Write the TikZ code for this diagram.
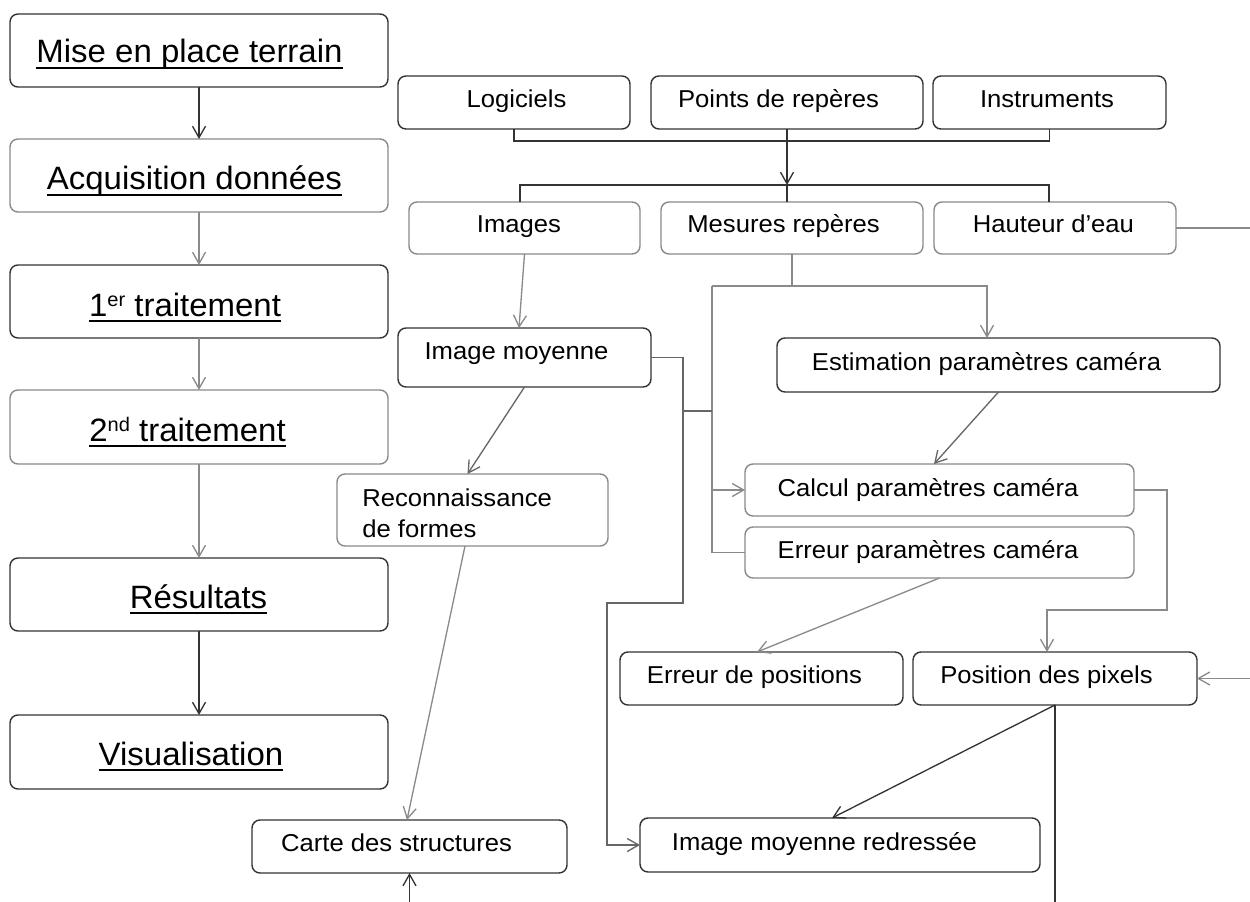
\documentclass[tikz,border=0pt]{standalone}
\usepackage{fontspec}
\usepackage{graphicx}
\setmainfont{Liberation Sans}
\usetikzlibrary{arrows.meta,calc}
\definecolor{dk}{HTML}{333333}
\definecolor{gy}{HTML}{8A8A8A}
\definecolor{md}{HTML}{666666}
\newsavebox\ulbox
\newcommand\myul[1]{\sbox\ulbox{#1}\rlap{\rule[-3.6pt]{\wd\ulbox}{1.1pt}}\usebox\ulbox}
\newcommand\ltx[1]{\scalebox{1.02}[1]{\myul{#1}}}
\newcommand\rtx[1]{\scalebox{1.05}[1]{#1}}
\newcommand\sups[1]{\raisebox{5.2pt}{\fontsize{11.2}{11.2}\selectfont #1}}
\newcommand\bx[6]{\node[#2, minimum width={(#5-#3)*0.02cm}, minimum height={(#6-#4)*0.02cm}] (#1) at ({(#3+#5)/2},{(#4+#6)/2}) {};}
\tikzset{
  boxd/.style={draw=dk, line width=0.8pt, rounded corners=0.16cm, inner sep=0pt, outer sep=0pt},
  boxg/.style={draw=gy, line width=0.8pt, rounded corners=0.16cm, inner sep=0pt, outer sep=0pt},
  lt/.style={anchor=base, inner sep=0pt, font=\fontsize{18.4}{20}\selectfont},
  rt/.style={anchor=base, inner sep=0pt, font=\fontsize{13.9}{15}\selectfont},
  lnd/.style={draw=dk, line width=0.75pt},
  lng/.style={draw=gy, line width=0.75pt},
  lnm/.style={draw=md, line width=0.75pt},
  >={Straight Barb[length=2.3mm,width=2.6mm]}
}
\begin{document}
\begin{tikzpicture}[x=0.02cm, y=-0.02cm]
\useasboundingbox[fill=white] (0,0) rectangle (1250,902);
% left column
\bx{mise}{boxd}{10}{14}{388}{87}
\bx{acq}{boxg}{10}{139}{388}{212}
\bx{tra1}{boxd}{10}{265}{388}{338}
\bx{tra2}{boxg}{10}{390}{388}{464}
\bx{res}{boxd}{10}{558}{388}{631}
\bx{vis}{boxd}{10}{715}{388}{789}
\node[lt] (mise-t) at (189.5,63) {\ltx{Mise en place terrain}};
\node[lt] (acq-t) at (194.5,190) {\ltx{Acquisition données}};
\node[lt] (tra1-t) at (185,316) {\ltx{1\sups{er} traitement}};
\node[lt] (tra2-t) at (187.5,441) {\ltx{2\sups{nd} traitement}};
\node[lt] (res-t) at (198.5,608) {\ltx{Résultats}};
\node[lt] (vis-t) at (191,765) {\ltx{Visualisation}};
\draw[lnd,->] (mise) -- (acq);
\draw[lng,->] (acq) -- (tra1);
\draw[lng,->] (tra1) -- (tra2);
\draw[lng,->] (tra2) -- (res);
\draw[lnd,->] (res) -- (vis);
% right boxes
\bx{log}{boxd}{398}{76}{630}{129}
\bx{pts}{boxd}{651}{76}{923}{129}
\bx{ins}{boxd}{933}{76}{1166}{129}
\bx{img}{boxg}{409}{202}{640}{254}
\bx{mes}{boxg}{661}{202}{923}{254}
\bx{hau}{boxg}{934}{202}{1176}{254}
\bx{imoy}{boxd}{398}{328}{651}{387}
\bx{est}{boxd}{777}{338}{1220}{392}
\bx{cal}{boxg}{745}{464}{1134}{516}
\bx{errp}{boxg}{745}{527}{1134}{578}
\bx{rec}{boxg}{337}{474}{608}{546}
\bx{errpos}{boxd}{620}{652}{903}{705}
\bx{pos}{boxd}{913}{652}{1197}{705}
\bx{carte}{boxd}{252}{820}{567}{873}
\bx{imr}{boxd}{640}{818}{1040}{872}
\node[rt] (log-t) at (516.5,108) {\rtx{Logiciels}};
\node[rt] (pts-t) at (778.5,108) {\rtx{Points de repères}};
\node[rt] (ins-t) at (1047,108) {\rtx{Instruments}};
\node[rt] (img-t) at (519,233) {\rtx{Images}};
\node[rt] (mes-t) at (783.5,233) {\rtx{Mesures repères}};
\node[rt] (hau-t) at (1053.5,233) {\rtx{Hauteur d’eau}};
\node[rt] (imoy-t) at (516.5,359) {\rtx{Image moyenne}};
\node[rt] (est-t) at (986.5,370) {\rtx{Estimation paramètres caméra}};
\node[rt] (cal-t) at (928,496) {\rtx{Calcul paramètres caméra}};
\node[rt] (errp-t) at (928,558) {\rtx{Erreur paramètres caméra}};
\node[rt, anchor=base west] (rec-t1) at (362,506) {\rtx{Reconnaissance}};
\node[rt, anchor=base west] (rec-t2) at (362,537) {\rtx{de formes}};
\node[rt] (errpos-t) at (754.5,683) {\rtx{Erreur de positions}};
\node[rt] (pos-t) at (1046.5,683) {\rtx{Position des pixels}};
\node[rt] (carte-t) at (396.5,851) {\rtx{Carte des structures}};
\node[rt] (imr-t) at (824.5,850) {\rtx{Image moyenne redressée}};
% coordinates
\coordinate (j1) at (787,141);
\coordinate (j2) at (787,185);
\coordinate (b1) at (520,185);
\coordinate (b3) at (1049,185);
\coordinate (hR) at (1250,228);
\coordinate (m1) at (712,286);
\coordinate (m2) at (987,286);
\coordinate (r1) at (683,411);
\coordinate (r2) at (683,603);
\coordinate (r3) at (607,603);
\coordinate (c1) at (1167,490);
\coordinate (c2) at (1167,610);
\coordinate (c3) at (1047,610);
\coordinate (pR) at (1250,678.5);
\coordinate (pb) at (1055,902);
\coordinate (cb) at (409.5,902);
% top brackets
\draw[lnd] (log.south) |- (j1) -| (ins.south);
\draw[lnd,->] (pts.south) -- (j2);
\draw[lnd] (b1 |- img.north) -- (b1) -- (b3) -- (b3 |- hau.north);
\draw[lnd] (j2) -- (j2 |- mes.north);
\draw[lng] (hau.east) -- (hR);
% images -> image moyenne
\draw[lng,->] (img.south) -- ([xshift=-0.11cm]imoy.north);
% mesures bracket
\draw[lng] (mes.south) -- (mes.south |- m1);
\draw[lng,->] (m1) -- (m2) -- (m2 |- est.north);
\draw[lng] (m1) -- (m1 |- errp.west) -- (errp.west);
\draw[lng,->] (m1 |- cal.west) -- (cal.west);
% image moyenne route
\draw[lnm,->] (imoy.east) -| (r1) -- (r2) -- (r3) -- (r3 |- imr.west) -- (imr.west);
\draw[lnm] (r1) -- (m1 |- r1);
\draw[lnm,->] (imoy.south) -- ([xshift=-0.1cm]rec.north);
\draw[lng,->] ([xshift=-0.15cm]rec.south) -- ([xshift=-0.05cm]carte.north);
% camera
\draw[lnm,->] (est.south) -- ([xshift=-0.11cm]cal.north);
\draw[lng,->] (cal.east) -- (c1) -- (c2) -- (c3) -- (c3 |- pos.north);
\draw[lng,->] (errp.south) -- ([xshift=-0.09cm]errpos.north);
\draw[lng,->] (pR) -- (pos.east);
\draw[lnd,->] (pos.south) -- ([xshift=-0.16cm]imr.north);
\draw[lnd] (pos.south) -- (pb);
\draw[lnd,->] (cb) -- (carte.south);
\end{tikzpicture}
\end{document}
